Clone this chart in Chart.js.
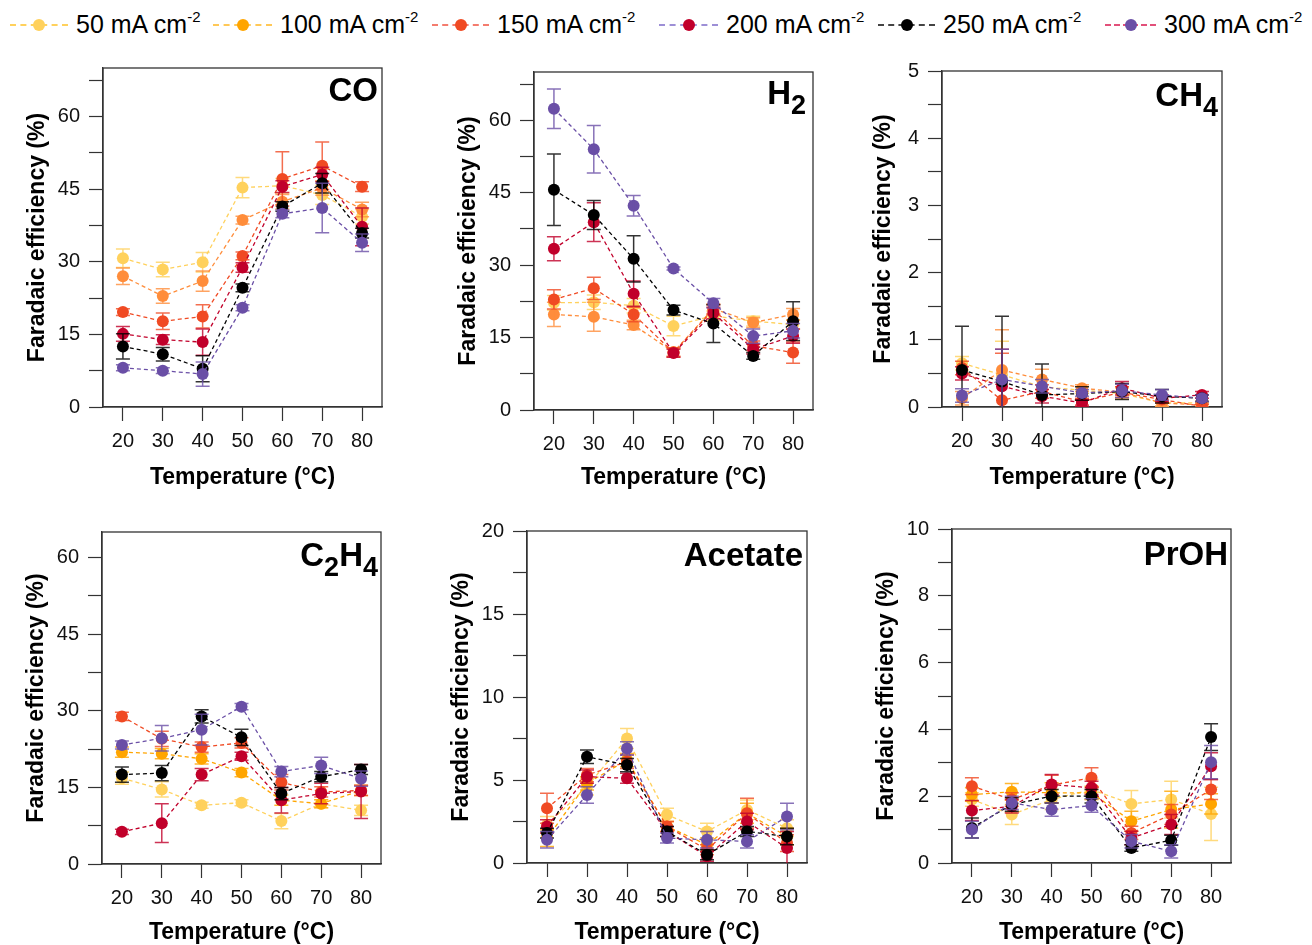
<!DOCTYPE html>
<html>
<head>
<meta charset="utf-8">
<script src="https://cdn.jsdelivr.net/npm/chart.js@4.4.0/dist/chart.umd.min.js"></script>
<style>
  html, body { margin: 0; padding: 0; background: #fff; }
  #page { position: relative; width: 1312px; height: 945px; overflow: hidden; font-family: 'Liberation Sans', Arial, sans-serif; }
  canvas { position: absolute; }
  .leg { position: absolute; top: 0; height: 45px; }
  .leg .ln { position: absolute; top: 24px; height: 0; border-top: 2px dashed; }
  .leg .dot { position: absolute; top: 19px; width: 12px; height: 12px; border-radius: 50%; }
  .leg .tx { position: absolute; top: 12px; font-size: 25px; line-height: 25px; white-space: nowrap; color: #000; }
  .leg sup { font-size: 15px; vertical-align: baseline; position: relative; top: -11px; }
  .ptitle { position: absolute; font-size: 33px; line-height: 33px; font-weight: bold; white-space: nowrap; color: #000; text-align: right; }
  .ptitle sub { font-size: 27px; vertical-align: baseline; position: relative; top: 10px; }
</style>
</head>
<body>
<div id="page"></div>
<script>
// x categories (temperature, °C) and series (current density, mA cm-2)
const temps = [20, 30, 40, 50, 60, 70, 80];
const densities = ['50', '100', '150', '200', '250', '300'];

// Faradaic efficiency (%) – one row per current density, one column per temperature
const coFE = [
  [30.7, 28.4, 29.9, 45.3, 45.7, 43.8, 39.3],
  [27.0, 22.9, 26.0, 38.6, 42.4, 45.2, 40.8],
  [19.6, 17.7, 18.7, 31.2, 47.1, 49.8, 45.5],
  [15.1, 13.9, 13.4, 28.8, 45.5, 48.0, 37.2],
  [12.5, 10.9, 7.9, 24.6, 41.4, 46.2, 35.9],
  [8.1, 7.5, 6.8, 20.5, 39.9, 41.1, 33.9]
];
const coErr = [
  [1.9, 1.5, 2.0, 2.1, 1.5, 2.0, 1.5],
  [1.7, 1.5, 2.1, 0.8, 1.5, 1.5, 1.5],
  [0.7, 1.7, 2.4, 0.8, 5.6, 4.9, 1.0],
  [1.5, 1.0, 2.7, 1.0, 1.2, 1.5, 3.9],
  [2.6, 1.4, 2.7, 0.8, 1.0, 2.0, 1.0],
  [0.6, 0.6, 2.5, 0.6, 0.8, 5.1, 1.8]
];

const h2FE = [
  [22.2, 22.3, 21.6, 17.4, 19.5, 18.4, 17.7],
  [19.8, 19.3, 17.6, 12.0, 21.0, 18.1, 19.8],
  [22.9, 25.2, 19.8, 11.9, 20.8, 13.3, 11.9],
  [33.4, 38.9, 24.1, 11.8, 20.1, 12.6, 15.3],
  [45.6, 40.4, 31.3, 20.7, 17.9, 11.2, 18.4],
  [62.4, 54.0, 42.3, 29.3, 22.1, 15.3, 16.4]
];
const h2Err = [
  [1.5, 1.5, 1.5, 2.0, 1.0, 1.0, 1.0],
  [2.5, 3.0, 1.0, 0.8, 1.0, 1.0, 1.2],
  [2.0, 2.3, 1.5, 1.0, 1.0, 1.0, 2.2],
  [2.5, 4.0, 2.6, 0.8, 1.2, 1.0, 1.5],
  [7.4, 3.0, 4.8, 1.0, 3.9, 0.7, 4.0],
  [4.1, 4.9, 2.1, 0.3, 1.0, 1.5, 1.5]
];

const ch4FE = [
  [0.65, 0.48, 0.30, 0.25, 0.20, 0.06, 0.06],
  [0.13, 0.55, 0.41, 0.28, 0.22, 0.06, 0.03],
  [0.58, 0.10, 0.23, 0.08, 0.22, 0.11, 0.01],
  [0.50, 0.31, 0.16, 0.06, 0.28, 0.13, 0.18],
  [0.55, 0.38, 0.18, 0.20, 0.23, 0.16, 0.13],
  [0.17, 0.41, 0.31, 0.21, 0.24, 0.18, 0.13]
];
const ch4Err = [
  [0.10, 0.50, 0.10, 0.05, 0.08, 0.05, 0.03],
  [0.10, 0.60, 0.15, 0.05, 0.08, 0.05, 0.03],
  [0.10, 0.70, 0.10, 0.05, 0.08, 0.05, 0.03],
  [0.10, 0.55, 0.10, 0.05, 0.10, 0.05, 0.05],
  [0.65, 0.97, 0.46, 0.10, 0.12, 0.10, 0.05],
  [0.10, 0.45, 0.10, 0.05, 0.10, 0.08, 0.05]
];

const c2h4FE = [
  [16.8, 14.6, 11.5, 12.0, 8.4, 11.8, 10.5],
  [21.9, 21.6, 20.6, 17.9, 12.5, 11.8, 14.4],
  [28.9, 24.5, 22.9, 23.7, 16.0, 14.1, 14.4],
  [6.3, 8.0, 17.5, 21.1, 12.5, 13.8, 14.2],
  [17.5, 17.8, 28.9, 24.8, 13.8, 17.1, 18.5],
  [23.3, 24.6, 26.3, 30.8, 18.1, 19.3, 16.7]
];
const c2h4Err = [
  [1.2, 1.5, 0.6, 0.6, 1.5, 0.8, 1.0],
  [1.0, 1.0, 1.0, 0.8, 1.0, 0.8, 1.0],
  [0.8, 1.5, 1.0, 1.0, 1.5, 1.0, 1.0],
  [0.5, 3.8, 1.2, 0.8, 2.5, 2.0, 5.3],
  [1.5, 1.5, 1.3, 1.6, 1.2, 1.0, 1.0],
  [0.8, 2.5, 3.0, 0.6, 1.0, 1.6, 1.5]
];

const acetateFE = [
  [2.3, 4.6, 7.5, 2.9, 1.9, 3.2, 2.1],
  [1.5, 4.8, 6.2, 2.2, 1.1, 3.0, 1.6],
  [3.3, 5.3, 6.1, 2.2, 0.8, 3.0, 1.2],
  [2.2, 5.2, 5.1, 1.9, 0.4, 2.5, 0.9],
  [1.8, 6.4, 5.9, 1.9, 0.5, 1.9, 1.6],
  [1.4, 4.1, 6.9, 1.5, 1.4, 1.3, 2.8]
];
const acetateErr = [
  [0.5, 0.5, 0.6, 0.4, 0.5, 0.6, 0.5],
  [0.5, 0.4, 0.4, 0.3, 0.4, 0.6, 0.5],
  [0.9, 0.4, 0.4, 0.3, 0.3, 0.9, 0.5],
  [0.4, 0.4, 0.3, 0.3, 0.3, 0.5, 1.0],
  [0.3, 0.4, 0.4, 0.3, 0.3, 0.3, 0.5],
  [0.5, 0.5, 0.4, 0.3, 0.5, 0.4, 0.8]
];

const prohFE = [
  [1.9, 1.45, 1.9, 2.2, 1.77, 1.9, 1.47],
  [2.05, 2.13, 2.1, 2.1, 1.25, 1.6, 1.77],
  [2.3, 1.9, 2.33, 2.55, 0.9, 1.45, 2.2],
  [1.57, 1.7, 2.35, 2.25, 0.75, 1.15, 2.9],
  [1.05, 1.75, 2.0, 2.0, 0.45, 0.68, 3.77],
  [1.0, 1.8, 1.6, 1.72, 0.65, 0.35, 3.02]
];
const prohErr = [
  [0.2, 0.3, 0.3, 0.3, 0.4, 0.55, 0.8],
  [0.2, 0.25, 0.3, 0.2, 0.3, 0.55, 0.3],
  [0.25, 0.2, 0.3, 0.3, 0.2, 0.3, 0.3],
  [0.3, 0.2, 0.3, 0.2, 0.2, 0.3, 0.4],
  [0.3, 0.2, 0.2, 0.2, 0.1, 0.15, 0.4],
  [0.25, 0.2, 0.2, 0.2, 0.2, 0.2, 0.5]
];

// colours
const seriesColors = ['#FFD15C', '#FFA500', '#F04A23', '#C1002B', '#000000', '#6A4FA6'];
const topRowOrange = '#FF8D3B';
const legendLineColors = ['#FFD15C', '#FFC857', '#F47C6E', '#9D8FD6', '#444444', '#E2507A'];

// layout: plot box of each panel in page pixels
const panels = [
  { id: 'co',      title: 'CO',                 fe: coFE,      err: coErr,      yMax: 70, minor: 7.5, major: 15, L: 103, T: 68,  R: 382,  B: 407, titleY: 477, yw: 79, orange: topRowOrange, tTop: 73,  tRight: 378 },
  { id: 'h2',      title: 'H<sub>2</sub>',      fe: h2FE,      err: h2Err,      yMax: 70, minor: 7.5, major: 15, L: 534, T: 72,  R: 813,  B: 410, titleY: 477, yw: 79, orange: topRowOrange, tTop: 76,  tRight: 806 },
  { id: 'ch4',     title: 'CH<sub>4</sub>',     fe: ch4FE,     err: ch4Err,     yMax: 5,  minor: 0.5, major: 1,  L: 942, T: 71,  R: 1222, B: 407, titleY: 477, yw: 72, orange: topRowOrange, tTop: 78,  tRight: 1218 },
  { id: 'c2h4',    title: 'C<sub>2</sub>H<sub>4</sub>', fe: c2h4FE, err: c2h4Err, yMax: 65, minor: 7.5, major: 15, L: 102, T: 532, R: 381,  B: 864, titleY: 932, yw: 79, orange: seriesColors[1], tTop: 538, tRight: 378 },
  { id: 'acetate', title: 'Acetate',            fe: acetateFE, err: acetateErr, yMax: 20, minor: 2.5, major: 5,  L: 527, T: 531, R: 807,  B: 863, titleY: 932, yw: 79, orange: seriesColors[1], tTop: 538, tRight: 803 },
  { id: 'proh',    title: 'PrOH',               fe: prohFE,    err: prohErr,    yMax: 10, minor: 1,   major: 2,  L: 952, T: 529, R: 1231, B: 863, titleY: 932, yw: 79, orange: seriesColors[1], tTop: 537, tRight: 1228 }
];

// legend placement
const legendLeft = [10, 213, 432, 659, 878, 1105];
const legendText = [76, 280, 497, 726, 943, 1164];

Chart.defaults.font.family = "'Liberation Sans', Arial, sans-serif";
Chart.defaults.color = '#111';

const page = document.getElementById('page');

// legend
densities.forEach((d, i) => {
  const leg = document.createElement('div');
  leg.className = 'leg';
  leg.style.left = legendLeft[i] + 'px';
  const w = legendText[i] - legendLeft[i] - 8;
  leg.innerHTML =
    '<span class="ln" style="width:' + w + 'px;border-color:' + legendLineColors[i] + '"></span>' +
    '<span class="dot" style="left:' + (w / 2 - 6) + 'px;background:' + seriesColors[i] + '"></span>' +
    '<span class="tx" style="left:' + (legendText[i] - legendLeft[i]) + 'px">' + d + ' mA cm<sup>-2</sup></span>';
  page.appendChild(leg);
});

// error bars, drawn through the chart scales
const errorBars = {
  id: 'errorBars',
  afterDatasetDraw(chart, args) {
    const ds = chart.data.datasets[args.index];
    if (!ds.errors) return;
    const { ctx, chartArea, scales: { x, y } } = chart;
    ctx.save();
    ctx.beginPath();
    ctx.rect(chartArea.left, chartArea.top, chartArea.right - chartArea.left, chartArea.bottom - chartArea.top);
    ctx.clip();
    ctx.strokeStyle = ds.borderColor;
    ctx.globalAlpha = 0.8;
    ctx.lineWidth = 1.5;
    ds.data.forEach((p, j) => {
      const e = ds.errors[j];
      const px = x.getPixelForValue(p.x);
      const yt = y.getPixelForValue(p.y + e);
      const yb = y.getPixelForValue(p.y - e);
      ctx.beginPath();
      ctx.moveTo(px, yt); ctx.lineTo(px, yb);
      ctx.moveTo(px - 7, yt); ctx.lineTo(px + 7, yt);
      ctx.moveTo(px - 7, yb); ctx.lineTo(px + 7, yb);
      ctx.stroke();
    });
    ctx.restore();
  }
};

// full box around the plot area
const frame = {
  id: 'frame',
  beforeDatasetsDraw(chart) {
    const { ctx, chartArea: a } = chart;
    ctx.save();
    ctx.strokeStyle = '#333';
    ctx.lineWidth = 1.3;
    ctx.strokeRect(a.left, a.top, a.right - a.left, a.bottom - a.top);
    ctx.restore();
  }
};

function isMajor(v, step) {
  const r = v / step;
  return Math.abs(r - Math.round(r)) < 1e-6;
}

panels.forEach(p => {
  const padTop = 12, padRight = 14;
  const xh = p.titleY + 14 - p.B;
  const canvas = document.createElement('canvas');
  canvas.id = p.id;
  canvas.width = p.yw + (p.R - p.L) + padRight;
  canvas.height = padTop + (p.B - p.T) + xh;
  canvas.style.left = (p.L - p.yw) + 'px';
  canvas.style.top = (p.T - padTop) + 'px';
  page.appendChild(canvas);

  const title = document.createElement('div');
  title.className = 'ptitle';
  title.style.right = (1312 - p.tRight) + 'px';
  title.style.top = p.tTop + 'px';
  title.innerHTML = p.title;
  page.appendChild(title);

  const yTicks = [];
  for (let v = 0; v <= p.yMax + 1e-9; v += p.minor) yTicks.push(+v.toFixed(3));

  const datasets = densities.map((d, i) => {
    const c = i === 1 ? p.orange : seriesColors[i];
    return {
      label: d + ' mA cm-2',
      data: temps.map((t, j) => ({ x: t, y: p.fe[i][j] })),
      errors: p.err[i],
      borderColor: c,
      backgroundColor: c,
      pointBackgroundColor: c,
      pointBorderColor: c,
      pointBorderWidth: 0,
      pointRadius: 6,
      borderWidth: 1.3,
      borderDash: [4, 3],
      fill: false,
      tension: 0,
      order: densities.length - 1 - i
    };
  });

  new Chart(canvas, {
    type: 'line',
    data: { datasets },
    plugins: [frame, errorBars],
    options: {
      responsive: false,
      animation: false,
      layout: { padding: { top: padTop, right: padRight, left: 0, bottom: 0 } },
      plugins: { legend: { display: false }, tooltip: { enabled: false } },
      scales: {
        x: {
          type: 'linear',
          min: 15,
          max: 85,
          afterBuildTicks: axis => { axis.ticks = temps.map(v => ({ value: v })); },
          afterFit: scale => { scale.height = xh; scale.paddingLeft = 0; scale.paddingRight = 0; },
          grid: { drawOnChartArea: false, tickLength: 14, tickColor: '#333', tickWidth: 1.2 },
          border: { color: '#333', width: 1.3 },
          ticks: { padding: 8, color: '#111', font: { size: 20 }, autoSkip: false, maxRotation: 0 },
          title: { display: true, text: 'Temperature (°C)', color: '#000', font: { size: 23, weight: 'bold' }, padding: 0 }
        },
        y: {
          min: 0,
          max: p.yMax,
          afterBuildTicks: axis => { axis.ticks = yTicks.map(v => ({ value: v })); },
          afterFit: scale => { scale.width = p.yw; scale.paddingTop = 0; scale.paddingBottom = 0; },
          grid: { drawOnChartArea: false, tickLength: 14, tickColor: '#333', tickWidth: 1.2 },
          border: { color: '#333', width: 1.3 },
          ticks: {
            padding: 9, color: '#111', font: { size: 20 }, autoSkip: false,
            callback: v => isMajor(v, p.major) ? String(+v.toFixed(2)) : ''
          },
          title: { display: true, text: 'Faradaic efficiency (%)', color: '#000', font: { size: 23, weight: 'bold' }, padding: 0 }
        }
      }
    }
  });
});
</script>
</body>
</html>
